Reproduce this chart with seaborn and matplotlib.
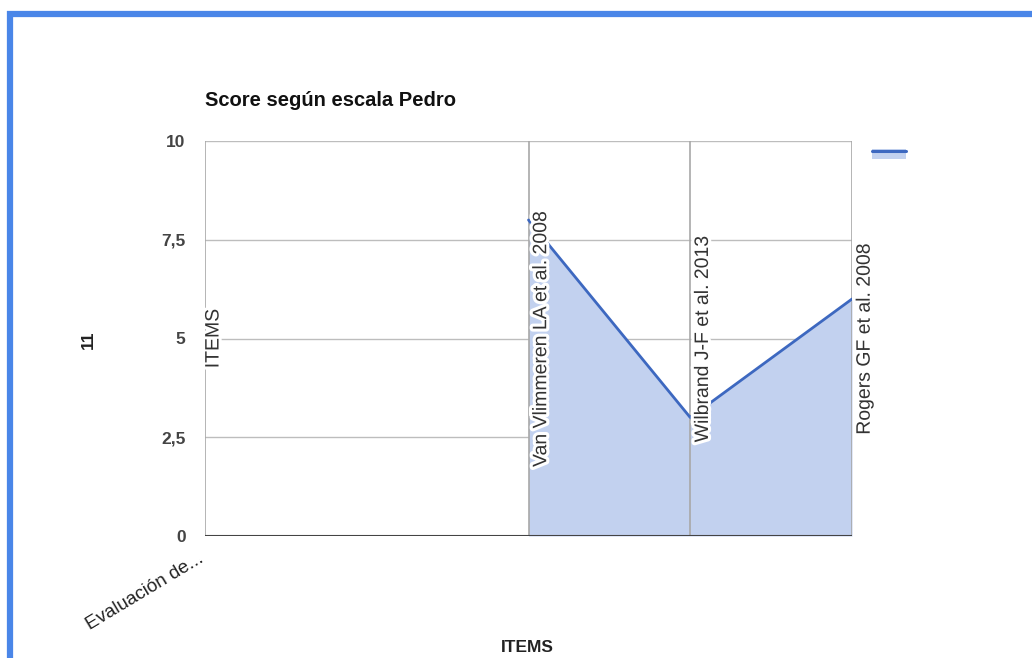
import numpy as np
import pandas as pd
import matplotlib
matplotlib.use("Agg")
import matplotlib.pyplot as plt
import matplotlib.patheffects as pe
from matplotlib.lines import Line2D
from matplotlib.patches import Rectangle
from matplotlib.transforms import ScaledTranslation
import seaborn as sns

# ---- data ----
x_labels = ["Evaluación de...", "", "", "", ""]
annotations = ["ITEMS", "", "Van Vlimmeren LA et al. 2008", "Wilbrand J-F et al. 2013", "Rogers GF et al. 2008"]
scores = [np.nan, np.nan, 8, 3, 6]
y_ticks = [0, 2.5, 5, 7.5, 10]
y_tick_labels = ["0", "2,5", "5", "7,5", "10"]
title = "Score según escala Pedro"
x_title = "ITEMS"
y_title = "11"

sns.set_theme(style="white")
plt.rcParams["font.family"] = ["Liberation Sans", "DejaVu Sans"]

LINE = "#3d68c0"
FILL = "#c2d1ef"
GRID = "#bdbdbd"

fig = plt.figure(figsize=(10.32, 6.58), dpi=100)
ax = fig.add_axes([205 / 1032, 1 - 536 / 658, (852 - 205) / 1032, (536 - 141) / 658])

pos = np.arange(len(x_labels))
df = pd.DataFrame({"pos": pos, "score": scores}).dropna()

ax.fill_between(df["pos"], 0, df["score"], color=FILL, lw=0, zorder=1)
sns.lineplot(data=df, x="pos", y="score", ax=ax, color=LINE, lw=2, zorder=3)

ax.set_xlim(pos[0], pos[-1])
ax.set_ylim(0, 10)
ax.set_yticks(y_ticks)
ax.set_yticklabels(y_tick_labels, fontsize=12.5, fontweight="bold", color="#444444")
ax.set_xticks(pos)
ax.set_xticklabels(x_labels, rotation=31, ha="right", rotation_mode="anchor",
                   fontsize=13.5, color="#222222")
ax.tick_params(axis="y", length=0, pad=14)
ax.tick_params(axis="x", length=0, pad=10)
for lbl in ax.get_xticklabels():
    lbl.set_transform(lbl.get_transform() + ScaledTranslation(-7 / 100, 0, fig.dpi_scale_trans))

for v in y_ticks[1:]:
    ax.axhline(v, color=GRID, lw=1, zorder=0.5)
ax.axhline(0, color="#444444", lw=1.5, zorder=4)

for s in ax.spines.values():
    s.set_visible(False)

for i, txt in enumerate(annotations):
    if txt:
        ax.axvline(pos[i], color="#a8a8a8", lw=1.2, zorder=2)
        ax.annotate(txt, xy=(pos[i], 5), xytext=(9.5 if i > 0 else 6.5, 0),
                    textcoords="offset points",
                    rotation=90, ha="center", va="center", fontsize=14, color="#333333",
                    zorder=5,
                    path_effects=[pe.withStroke(linewidth=4.5, foreground="white")])

ax.set_xlabel("")
ax.set_ylabel("")
fig.text(205 / 1032, 1 - 100 / 658, title, fontsize=14.5, fontweight="bold",
         ha="left", va="center", color="#111111")
fig.text(527 / 1032, 1 - 648 / 658, x_title, fontsize=12.5, fontweight="bold",
         ha="center", va="center", color="#222222")
fig.text(88 / 1032, 1 - 340 / 658, y_title, fontsize=12.5, fontweight="bold",
         ha="center", va="center", rotation=90, color="#222222")

# legend swatch (no label)
fig.add_artist(Rectangle((872 / 1032, 1 - 159 / 658), 34 / 1032, 10 / 658,
                         transform=fig.transFigure, facecolor=FILL, edgecolor="none"))
fig.add_artist(Line2D([872 / 1032, 906 / 1032], [1 - 151 / 658, 1 - 151 / 658],
                      transform=fig.transFigure, color=LINE, lw=2.2))

# outer blue frame
BLUE = "#4a86e8"
fig.add_artist(Line2D([10 / 1032, 10 / 1032], [0, 1 - 11 / 658], transform=fig.transFigure,
                      color=BLUE, lw=4.5, solid_capstyle="butt"))
fig.add_artist(Line2D([7 / 1032, 1], [1 - 14 / 658, 1 - 14 / 658], transform=fig.transFigure,
                      color=BLUE, lw=4.5, solid_capstyle="butt"))

fig.savefig("out.png", dpi=100, facecolor="white")
